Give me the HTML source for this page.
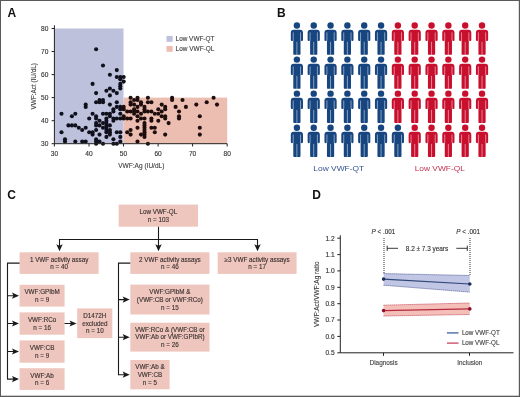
<!DOCTYPE html>
<html><head><meta charset="utf-8"><title>Figure</title><style>
html,body{margin:0;padding:0;background:#fff;overflow:hidden}
svg{display:block;will-change:transform}
text{font-family:"Liberation Sans",sans-serif}
</style></head><body>
<svg width="520" height="397" viewBox="0 0 520 397">
<rect x="0" y="0" width="520" height="397" fill="#fff"/>

<text x="7.5" y="16.5" font-size="12" font-weight="bold" fill="#111">A</text>
<rect x="54.4" y="28.5" width="69.1" height="115.2" fill="#bec1db"/>
<rect x="123.5" y="97.6" width="103.7" height="46.1" fill="#ecbdb1"/>
<g><circle cx="61.5" cy="132.3" r="2.05" fill="#10101c"/><circle cx="61.5" cy="113.8" r="2.05" fill="#10101c"/><circle cx="65.0" cy="141.5" r="2.05" fill="#10101c"/><circle cx="65.0" cy="139.2" r="2.05" fill="#10101c"/><circle cx="68.4" cy="125.4" r="2.05" fill="#10101c"/><circle cx="71.9" cy="125.4" r="2.05" fill="#10101c"/><circle cx="71.9" cy="116.2" r="2.05" fill="#10101c"/><circle cx="75.3" cy="141.5" r="2.05" fill="#10101c"/><circle cx="75.3" cy="125.4" r="2.05" fill="#10101c"/><circle cx="75.3" cy="113.8" r="2.05" fill="#10101c"/><circle cx="78.8" cy="127.7" r="2.05" fill="#10101c"/><circle cx="82.2" cy="141.5" r="2.05" fill="#10101c"/><circle cx="82.2" cy="130.0" r="2.05" fill="#10101c"/><circle cx="85.7" cy="141.5" r="2.05" fill="#10101c"/><circle cx="85.7" cy="127.7" r="2.05" fill="#10101c"/><circle cx="85.7" cy="106.9" r="2.05" fill="#10101c"/><circle cx="85.7" cy="104.6" r="2.05" fill="#10101c"/><circle cx="89.2" cy="132.3" r="2.05" fill="#10101c"/><circle cx="89.2" cy="118.5" r="2.05" fill="#10101c"/><circle cx="92.6" cy="134.6" r="2.05" fill="#10101c"/><circle cx="92.6" cy="132.3" r="2.05" fill="#10101c"/><circle cx="92.6" cy="113.8" r="2.05" fill="#10101c"/><circle cx="92.6" cy="83.9" r="2.05" fill="#10101c"/><circle cx="96.1" cy="143.8" r="2.05" fill="#10101c"/><circle cx="96.1" cy="141.5" r="2.05" fill="#10101c"/><circle cx="96.1" cy="139.2" r="2.05" fill="#10101c"/><circle cx="96.1" cy="130.0" r="2.05" fill="#10101c"/><circle cx="96.1" cy="125.4" r="2.05" fill="#10101c"/><circle cx="96.1" cy="123.1" r="2.05" fill="#10101c"/><circle cx="96.1" cy="118.5" r="2.05" fill="#10101c"/><circle cx="96.1" cy="116.2" r="2.05" fill="#10101c"/><circle cx="96.1" cy="102.3" r="2.05" fill="#10101c"/><circle cx="96.1" cy="93.1" r="2.05" fill="#10101c"/><circle cx="96.1" cy="49.3" r="2.05" fill="#10101c"/><circle cx="99.5" cy="141.5" r="2.05" fill="#10101c"/><circle cx="99.5" cy="134.6" r="2.05" fill="#10101c"/><circle cx="99.5" cy="125.4" r="2.05" fill="#10101c"/><circle cx="99.5" cy="120.8" r="2.05" fill="#10101c"/><circle cx="99.5" cy="102.3" r="2.05" fill="#10101c"/><circle cx="99.5" cy="100.0" r="2.05" fill="#10101c"/><circle cx="103.0" cy="143.8" r="2.05" fill="#10101c"/><circle cx="103.0" cy="127.7" r="2.05" fill="#10101c"/><circle cx="103.0" cy="123.1" r="2.05" fill="#10101c"/><circle cx="103.0" cy="113.8" r="2.05" fill="#10101c"/><circle cx="103.0" cy="102.3" r="2.05" fill="#10101c"/><circle cx="103.0" cy="100.0" r="2.05" fill="#10101c"/><circle cx="103.0" cy="65.5" r="2.05" fill="#10101c"/><circle cx="106.4" cy="136.9" r="2.05" fill="#10101c"/><circle cx="106.4" cy="132.3" r="2.05" fill="#10101c"/><circle cx="106.4" cy="130.0" r="2.05" fill="#10101c"/><circle cx="106.4" cy="127.7" r="2.05" fill="#10101c"/><circle cx="106.4" cy="125.4" r="2.05" fill="#10101c"/><circle cx="106.4" cy="123.1" r="2.05" fill="#10101c"/><circle cx="106.4" cy="120.8" r="2.05" fill="#10101c"/><circle cx="106.4" cy="118.5" r="2.05" fill="#10101c"/><circle cx="106.4" cy="113.8" r="2.05" fill="#10101c"/><circle cx="106.4" cy="90.8" r="2.05" fill="#10101c"/><circle cx="109.9" cy="134.6" r="2.05" fill="#10101c"/><circle cx="109.9" cy="132.3" r="2.05" fill="#10101c"/><circle cx="109.9" cy="130.0" r="2.05" fill="#10101c"/><circle cx="109.9" cy="125.4" r="2.05" fill="#10101c"/><circle cx="109.9" cy="116.2" r="2.05" fill="#10101c"/><circle cx="109.9" cy="113.8" r="2.05" fill="#10101c"/><circle cx="109.9" cy="104.6" r="2.05" fill="#10101c"/><circle cx="109.9" cy="95.4" r="2.05" fill="#10101c"/><circle cx="109.9" cy="88.5" r="2.05" fill="#10101c"/><circle cx="109.9" cy="74.7" r="2.05" fill="#10101c"/><circle cx="113.4" cy="143.8" r="2.05" fill="#10101c"/><circle cx="113.4" cy="139.2" r="2.05" fill="#10101c"/><circle cx="113.4" cy="120.8" r="2.05" fill="#10101c"/><circle cx="113.4" cy="118.5" r="2.05" fill="#10101c"/><circle cx="113.4" cy="111.5" r="2.05" fill="#10101c"/><circle cx="113.4" cy="109.2" r="2.05" fill="#10101c"/><circle cx="113.4" cy="90.8" r="2.05" fill="#10101c"/><circle cx="116.8" cy="143.8" r="2.05" fill="#10101c"/><circle cx="116.8" cy="132.3" r="2.05" fill="#10101c"/><circle cx="116.8" cy="118.5" r="2.05" fill="#10101c"/><circle cx="116.8" cy="106.9" r="2.05" fill="#10101c"/><circle cx="116.8" cy="102.3" r="2.05" fill="#10101c"/><circle cx="116.8" cy="93.1" r="2.05" fill="#10101c"/><circle cx="116.8" cy="77.0" r="2.05" fill="#10101c"/><circle cx="116.8" cy="70.1" r="2.05" fill="#10101c"/><circle cx="120.3" cy="141.5" r="2.05" fill="#10101c"/><circle cx="120.3" cy="136.9" r="2.05" fill="#10101c"/><circle cx="120.3" cy="132.3" r="2.05" fill="#10101c"/><circle cx="120.3" cy="118.5" r="2.05" fill="#10101c"/><circle cx="120.3" cy="113.8" r="2.05" fill="#10101c"/><circle cx="120.3" cy="109.2" r="2.05" fill="#10101c"/><circle cx="120.3" cy="106.9" r="2.05" fill="#10101c"/><circle cx="120.3" cy="88.5" r="2.05" fill="#10101c"/><circle cx="120.3" cy="86.2" r="2.05" fill="#10101c"/><circle cx="120.3" cy="83.9" r="2.05" fill="#10101c"/><circle cx="120.3" cy="79.3" r="2.05" fill="#10101c"/><circle cx="120.3" cy="77.0" r="2.05" fill="#10101c"/><circle cx="123.7" cy="118.5" r="2.05" fill="#1e0d0d"/><circle cx="123.7" cy="116.2" r="2.05" fill="#1e0d0d"/><circle cx="123.7" cy="109.2" r="2.05" fill="#1e0d0d"/><circle cx="123.7" cy="106.9" r="2.05" fill="#1e0d0d"/><circle cx="123.7" cy="81.6" r="2.05" fill="#10101c"/><circle cx="123.7" cy="77.0" r="2.05" fill="#10101c"/><circle cx="127.2" cy="132.3" r="2.05" fill="#1e0d0d"/><circle cx="127.2" cy="118.5" r="2.05" fill="#1e0d0d"/><circle cx="127.2" cy="111.5" r="2.05" fill="#1e0d0d"/><circle cx="130.6" cy="134.6" r="2.05" fill="#1e0d0d"/><circle cx="130.6" cy="130.0" r="2.05" fill="#1e0d0d"/><circle cx="130.6" cy="118.5" r="2.05" fill="#1e0d0d"/><circle cx="130.6" cy="111.5" r="2.05" fill="#1e0d0d"/><circle cx="130.6" cy="104.6" r="2.05" fill="#1e0d0d"/><circle cx="130.6" cy="102.3" r="2.05" fill="#1e0d0d"/><circle cx="130.6" cy="97.7" r="2.05" fill="#1e0d0d"/><circle cx="134.1" cy="113.8" r="2.05" fill="#1e0d0d"/><circle cx="134.1" cy="111.5" r="2.05" fill="#1e0d0d"/><circle cx="134.1" cy="109.2" r="2.05" fill="#1e0d0d"/><circle cx="134.1" cy="104.6" r="2.05" fill="#1e0d0d"/><circle cx="134.1" cy="100.0" r="2.05" fill="#1e0d0d"/><circle cx="137.5" cy="141.5" r="2.05" fill="#1e0d0d"/><circle cx="137.5" cy="127.7" r="2.05" fill="#1e0d0d"/><circle cx="137.5" cy="120.8" r="2.05" fill="#1e0d0d"/><circle cx="137.5" cy="116.2" r="2.05" fill="#1e0d0d"/><circle cx="137.5" cy="111.5" r="2.05" fill="#1e0d0d"/><circle cx="137.5" cy="106.9" r="2.05" fill="#1e0d0d"/><circle cx="137.5" cy="100.0" r="2.05" fill="#1e0d0d"/><circle cx="137.5" cy="97.7" r="2.05" fill="#1e0d0d"/><circle cx="141.0" cy="134.6" r="2.05" fill="#1e0d0d"/><circle cx="141.0" cy="118.5" r="2.05" fill="#1e0d0d"/><circle cx="141.0" cy="113.8" r="2.05" fill="#1e0d0d"/><circle cx="141.0" cy="104.6" r="2.05" fill="#1e0d0d"/><circle cx="141.0" cy="102.3" r="2.05" fill="#1e0d0d"/><circle cx="144.5" cy="136.9" r="2.05" fill="#1e0d0d"/><circle cx="144.5" cy="134.6" r="2.05" fill="#1e0d0d"/><circle cx="144.5" cy="132.3" r="2.05" fill="#1e0d0d"/><circle cx="144.5" cy="130.0" r="2.05" fill="#1e0d0d"/><circle cx="144.5" cy="127.7" r="2.05" fill="#1e0d0d"/><circle cx="144.5" cy="125.4" r="2.05" fill="#1e0d0d"/><circle cx="144.5" cy="123.1" r="2.05" fill="#1e0d0d"/><circle cx="144.5" cy="118.5" r="2.05" fill="#1e0d0d"/><circle cx="144.5" cy="111.5" r="2.05" fill="#1e0d0d"/><circle cx="144.5" cy="109.2" r="2.05" fill="#1e0d0d"/><circle cx="144.5" cy="106.9" r="2.05" fill="#1e0d0d"/><circle cx="147.9" cy="143.8" r="2.05" fill="#1e0d0d"/><circle cx="147.9" cy="111.5" r="2.05" fill="#1e0d0d"/><circle cx="147.9" cy="102.3" r="2.05" fill="#1e0d0d"/><circle cx="147.9" cy="97.7" r="2.05" fill="#1e0d0d"/><circle cx="151.4" cy="127.7" r="2.05" fill="#1e0d0d"/><circle cx="151.4" cy="120.8" r="2.05" fill="#1e0d0d"/><circle cx="151.4" cy="118.5" r="2.05" fill="#1e0d0d"/><circle cx="151.4" cy="111.5" r="2.05" fill="#1e0d0d"/><circle cx="151.4" cy="102.3" r="2.05" fill="#1e0d0d"/><circle cx="154.8" cy="132.3" r="2.05" fill="#1e0d0d"/><circle cx="154.8" cy="127.7" r="2.05" fill="#1e0d0d"/><circle cx="154.8" cy="113.8" r="2.05" fill="#1e0d0d"/><circle cx="158.3" cy="120.8" r="2.05" fill="#1e0d0d"/><circle cx="158.3" cy="113.8" r="2.05" fill="#1e0d0d"/><circle cx="158.3" cy="109.2" r="2.05" fill="#1e0d0d"/><circle cx="161.7" cy="116.2" r="2.05" fill="#1e0d0d"/><circle cx="161.7" cy="111.5" r="2.05" fill="#1e0d0d"/><circle cx="161.7" cy="104.6" r="2.05" fill="#1e0d0d"/><circle cx="165.2" cy="134.6" r="2.05" fill="#1e0d0d"/><circle cx="165.2" cy="118.5" r="2.05" fill="#1e0d0d"/><circle cx="165.2" cy="116.2" r="2.05" fill="#1e0d0d"/><circle cx="165.2" cy="109.2" r="2.05" fill="#1e0d0d"/><circle cx="165.2" cy="106.9" r="2.05" fill="#1e0d0d"/><circle cx="168.6" cy="123.1" r="2.05" fill="#1e0d0d"/><circle cx="172.1" cy="100.0" r="2.05" fill="#1e0d0d"/><circle cx="172.1" cy="97.7" r="2.05" fill="#1e0d0d"/><circle cx="175.6" cy="106.9" r="2.05" fill="#1e0d0d"/><circle cx="179.0" cy="118.5" r="2.05" fill="#1e0d0d"/><circle cx="179.0" cy="116.2" r="2.05" fill="#1e0d0d"/><circle cx="179.0" cy="111.5" r="2.05" fill="#1e0d0d"/><circle cx="182.5" cy="100.0" r="2.05" fill="#1e0d0d"/><circle cx="185.9" cy="106.9" r="2.05" fill="#1e0d0d"/><circle cx="196.3" cy="104.6" r="2.05" fill="#1e0d0d"/><circle cx="199.8" cy="134.6" r="2.05" fill="#1e0d0d"/><circle cx="199.8" cy="127.7" r="2.05" fill="#1e0d0d"/><circle cx="199.8" cy="116.2" r="2.05" fill="#1e0d0d"/><circle cx="206.7" cy="102.3" r="2.05" fill="#1e0d0d"/><circle cx="213.6" cy="97.7" r="2.05" fill="#1e0d0d"/><circle cx="217.0" cy="104.6" r="2.05" fill="#1e0d0d"/></g>
<path d="M54.4 25.3V143.7H227.2" fill="none" stroke="#222" stroke-width="1"/>
<path d="M51.6 143.7H54.4M54.4 143.7V146.5M51.6 120.7H54.4M89.0 143.7V146.5M51.6 97.6H54.4M123.5 143.7V146.5M51.6 74.6H54.4M158.1 143.7V146.5M51.6 51.5H54.4M192.6 143.7V146.5M51.6 28.5H54.4M227.2 143.7V146.5" stroke="#222" stroke-width="1"/>
<text x="48.4" y="145.9" font-size="6.6" text-anchor="end" fill="#333" stroke="#333" stroke-width="0.13">30</text>
<text x="54.4" y="156.2" font-size="6.6" text-anchor="middle" fill="#333" stroke="#333" stroke-width="0.13">30</text>
<text x="48.4" y="122.9" font-size="6.6" text-anchor="end" fill="#333" stroke="#333" stroke-width="0.13">40</text>
<text x="89.0" y="156.2" font-size="6.6" text-anchor="middle" fill="#333" stroke="#333" stroke-width="0.13">40</text>
<text x="48.4" y="99.8" font-size="6.6" text-anchor="end" fill="#333" stroke="#333" stroke-width="0.13">50</text>
<text x="123.5" y="156.2" font-size="6.6" text-anchor="middle" fill="#333" stroke="#333" stroke-width="0.13">50</text>
<text x="48.4" y="76.8" font-size="6.6" text-anchor="end" fill="#333" stroke="#333" stroke-width="0.13">60</text>
<text x="158.1" y="156.2" font-size="6.6" text-anchor="middle" fill="#333" stroke="#333" stroke-width="0.13">60</text>
<text x="48.4" y="53.7" font-size="6.6" text-anchor="end" fill="#333" stroke="#333" stroke-width="0.13">70</text>
<text x="192.6" y="156.2" font-size="6.6" text-anchor="middle" fill="#333" stroke="#333" stroke-width="0.13">70</text>
<text x="48.4" y="30.7" font-size="6.6" text-anchor="end" fill="#333" stroke="#333" stroke-width="0.13">80</text>
<text x="227.2" y="156.2" font-size="6.6" text-anchor="middle" fill="#333" stroke="#333" stroke-width="0.13">80</text>
<text x="141.3" y="168.3" font-size="6.6" text-anchor="middle" fill="#444" textLength="46.2" lengthAdjust="spacingAndGlyphs" stroke="#444" stroke-width="0.13">VWF:Ag (IU/dL)</text>
<text transform="translate(36 86.3) rotate(-90)" x="0" y="0" font-size="6.6" text-anchor="middle" fill="#444" textLength="46.5" lengthAdjust="spacingAndGlyphs" stroke="#444" stroke-width="0.13">VWF:Act (IU/dL)</text>
<rect x="166.5" y="36" width="6.2" height="5.8" fill="#bec1db"/>
<rect x="166.5" y="46" width="6.2" height="5.8" fill="#ecbdb1"/>
<text x="175.6" y="41.2" font-size="6.5" fill="#444" textLength="38.8" lengthAdjust="spacingAndGlyphs" stroke="#444" stroke-width="0.13">Low VWF-QT</text>
<text x="175.6" y="51.2" font-size="6.5" fill="#444" textLength="38.8" lengthAdjust="spacingAndGlyphs" stroke="#444" stroke-width="0.13">Low VWF-QL</text>
<text x="277.0" y="16.5" font-size="12" font-weight="bold" fill="#111">B</text>
<defs><g id="man">
<circle cx="0" cy="-0.05" r="3.2"/>
<path d="M-6.1 7A2.9 2.9 0 0 1 -3.2 4.1H3.2A2.9 2.9 0 0 1 6.1 7V14.3A1.1 1.1 0 0 1 5 15.4H4.8A1.1 1.1 0 0 1 3.7 14.3V15H3.6V28.3A0.9 0.9 0 0 1 2.7 29.2H-2.7A0.9 0.9 0 0 1 -3.6 28.3V15H-3.7V14.3A1.1 1.1 0 0 1 -4.8 15.4H-5A1.1 1.1 0 0 1 -6.1 14.3Z"/>
<path d="M-3.65 6.8V15M3.65 6.8V15M0 16.2V29.2" stroke="#fff" stroke-opacity="0.75" stroke-width="0.65" fill="none"/>
</g></defs>
<use href="#man" x="296.90" y="25.60" fill="#174580"/>
<use href="#man" x="313.73" y="25.60" fill="#174580"/>
<use href="#man" x="330.56" y="25.60" fill="#174580"/>
<use href="#man" x="347.39" y="25.60" fill="#174580"/>
<use href="#man" x="364.22" y="25.60" fill="#174580"/>
<use href="#man" x="381.05" y="25.60" fill="#174580"/>
<use href="#man" x="397.88" y="25.60" fill="#c8102e"/>
<use href="#man" x="414.71" y="25.60" fill="#c8102e"/>
<use href="#man" x="431.54" y="25.60" fill="#c8102e"/>
<use href="#man" x="448.37" y="25.60" fill="#c8102e"/>
<use href="#man" x="465.20" y="25.60" fill="#c8102e"/>
<use href="#man" x="482.03" y="25.60" fill="#c8102e"/>
<use href="#man" x="296.90" y="59.65" fill="#174580"/>
<use href="#man" x="313.73" y="59.65" fill="#174580"/>
<use href="#man" x="330.56" y="59.65" fill="#174580"/>
<use href="#man" x="347.39" y="59.65" fill="#174580"/>
<use href="#man" x="364.22" y="59.65" fill="#174580"/>
<use href="#man" x="381.05" y="59.65" fill="#174580"/>
<use href="#man" x="397.88" y="59.65" fill="#c8102e"/>
<use href="#man" x="414.71" y="59.65" fill="#c8102e"/>
<use href="#man" x="431.54" y="59.65" fill="#c8102e"/>
<use href="#man" x="448.37" y="59.65" fill="#c8102e"/>
<use href="#man" x="465.20" y="59.65" fill="#c8102e"/>
<use href="#man" x="482.03" y="59.65" fill="#c8102e"/>
<use href="#man" x="296.90" y="93.70" fill="#174580"/>
<use href="#man" x="313.73" y="93.70" fill="#174580"/>
<use href="#man" x="330.56" y="93.70" fill="#174580"/>
<use href="#man" x="347.39" y="93.70" fill="#174580"/>
<use href="#man" x="364.22" y="93.70" fill="#174580"/>
<use href="#man" x="381.05" y="93.70" fill="#174580"/>
<use href="#man" x="397.88" y="93.70" fill="#c8102e"/>
<use href="#man" x="414.71" y="93.70" fill="#c8102e"/>
<use href="#man" x="431.54" y="93.70" fill="#c8102e"/>
<use href="#man" x="448.37" y="93.70" fill="#c8102e"/>
<use href="#man" x="465.20" y="93.70" fill="#c8102e"/>
<use href="#man" x="482.03" y="93.70" fill="#c8102e"/>
<use href="#man" x="296.90" y="127.75" fill="#174580"/>
<use href="#man" x="313.73" y="127.75" fill="#174580"/>
<use href="#man" x="330.56" y="127.75" fill="#174580"/>
<use href="#man" x="347.39" y="127.75" fill="#174580"/>
<use href="#man" x="364.22" y="127.75" fill="#174580"/>
<use href="#man" x="381.05" y="127.75" fill="#174580"/>
<use href="#man" x="397.88" y="127.75" fill="#174580"/>
<use href="#man" x="414.71" y="127.75" fill="#c8102e"/>
<use href="#man" x="431.54" y="127.75" fill="#c8102e"/>
<use href="#man" x="448.37" y="127.75" fill="#c8102e"/>
<use href="#man" x="465.20" y="127.75" fill="#c8102e"/>
<use href="#man" x="482.03" y="127.75" fill="#c8102e"/>
<text class="ns" x="313.3" y="171" font-size="7.7" fill="#34548c" textLength="50.9" lengthAdjust="spacingAndGlyphs">Low VWF-QT</text>
<text class="ns" x="414.7" y="171" font-size="7.7" fill="#c4324f" textLength="50.2" lengthAdjust="spacingAndGlyphs">Low VWF-QL</text>
<text x="7.3" y="198.5" font-size="12" font-weight="bold" fill="#111">C</text>
<rect x="118.7" y="204.6" width="79.3" height="22.1" fill="#eec6bd"/><text x="158.3" y="214.1" font-size="6.3" text-anchor="middle" fill="#3b3131" stroke="#3b3131" stroke-width="0.13">Low VWF-QL</text><text x="158.3" y="221.8" font-size="6.3" text-anchor="middle" fill="#3b3131" stroke="#3b3131" stroke-width="0.13">n = 103</text>
<rect x="19.6" y="252.3" width="79.0" height="21.6" fill="#eec6bd"/><text x="59.1" y="261.6" font-size="6.3" text-anchor="middle" fill="#3b3131" stroke="#3b3131" stroke-width="0.13">1 VWF activity assay</text><text x="59.1" y="269.2" font-size="6.3" text-anchor="middle" fill="#3b3131" stroke="#3b3131" stroke-width="0.13">n = 40</text>
<rect x="130.3" y="252.3" width="79.2" height="21.6" fill="#eec6bd"/><text x="169.9" y="261.6" font-size="6.3" text-anchor="middle" fill="#3b3131" stroke="#3b3131" stroke-width="0.13">2 VWF activity assays</text><text x="169.9" y="269.2" font-size="6.3" text-anchor="middle" fill="#3b3131" stroke="#3b3131" stroke-width="0.13">n = 46</text>
<rect x="217.7" y="252.3" width="78.9" height="21.6" fill="#eec6bd"/><text x="257.1" y="261.6" font-size="6.3" text-anchor="middle" fill="#3b3131" stroke="#3b3131" stroke-width="0.13">≥3 VWF activity assays</text><text x="257.1" y="269.2" font-size="6.3" text-anchor="middle" fill="#3b3131" stroke="#3b3131" stroke-width="0.13">n = 17</text>
<rect x="19.6" y="284.8" width="45.0" height="21.8" fill="#eec6bd"/><text x="42.1" y="294.2" font-size="6.3" text-anchor="middle" fill="#3b3131" stroke="#3b3131" stroke-width="0.13">VWF:GPIbM</text><text x="42.1" y="301.9" font-size="6.3" text-anchor="middle" fill="#3b3131" stroke="#3b3131" stroke-width="0.13">n = 9</text>
<rect x="19.6" y="312.4" width="45.0" height="22.3" fill="#eec6bd"/><text x="42.1" y="322.0" font-size="6.3" text-anchor="middle" fill="#3b3131" stroke="#3b3131" stroke-width="0.13">VWF:RCo</text><text x="42.1" y="329.7" font-size="6.3" text-anchor="middle" fill="#3b3131" stroke="#3b3131" stroke-width="0.13">n = 16</text>
<rect x="77.2" y="308.4" width="35.1" height="29.7" fill="#eec6bd"/><text x="94.8" y="317.9" font-size="6.3" text-anchor="middle" fill="#3b3131" stroke="#3b3131" stroke-width="0.13">D1472H</text><text x="94.8" y="325.6" font-size="6.3" text-anchor="middle" fill="#3b3131" stroke="#3b3131" stroke-width="0.13">excluded</text><text x="94.8" y="333.2" font-size="6.3" text-anchor="middle" fill="#3b3131" stroke="#3b3131" stroke-width="0.13">n = 10</text>
<rect x="19.6" y="340.4" width="45.0" height="22.3" fill="#eec6bd"/><text x="42.1" y="350.0" font-size="6.3" text-anchor="middle" fill="#3b3131" stroke="#3b3131" stroke-width="0.13">VWF:CB</text><text x="42.1" y="357.7" font-size="6.3" text-anchor="middle" fill="#3b3131" stroke="#3b3131" stroke-width="0.13">n = 9</text>
<rect x="19.6" y="368.2" width="45.0" height="21.7" fill="#eec6bd"/><text x="42.1" y="377.5" font-size="6.3" text-anchor="middle" fill="#3b3131" stroke="#3b3131" stroke-width="0.13">VWF:Ab</text><text x="42.1" y="385.2" font-size="6.3" text-anchor="middle" fill="#3b3131" stroke="#3b3131" stroke-width="0.13">n = 6</text>
<rect x="130.3" y="284.6" width="79.2" height="29.9" fill="#eec6bd"/><text x="169.9" y="294.2" font-size="6.3" text-anchor="middle" fill="#3b3131" stroke="#3b3131" stroke-width="0.13">VWF:GPIbM &amp;</text><text x="169.9" y="301.9" font-size="6.3" text-anchor="middle" fill="#3b3131" stroke="#3b3131" stroke-width="0.13">(VWF:CB or VWF:RCo)</text><text x="169.9" y="309.6" font-size="6.3" text-anchor="middle" fill="#3b3131" stroke="#3b3131" stroke-width="0.13">n = 15</text>
<rect x="130.3" y="322.7" width="79.2" height="28.9" fill="#eec6bd"/><text x="169.9" y="331.8" font-size="6.3" text-anchor="middle" fill="#3b3131" stroke="#3b3131" stroke-width="0.13">VWF:RCo &amp; (VWF:CB or</text><text x="169.9" y="339.4" font-size="6.3" text-anchor="middle" fill="#3b3131" stroke="#3b3131" stroke-width="0.13">VWF:Ab or VWF:GPIbR)</text><text x="169.9" y="347.1" font-size="6.3" text-anchor="middle" fill="#3b3131" stroke="#3b3131" stroke-width="0.13">n = 26</text>
<rect x="130.3" y="360" width="39.3" height="29.3" fill="#eec6bd"/><text x="149.9" y="369.2" font-size="6.3" text-anchor="middle" fill="#3b3131" stroke="#3b3131" stroke-width="0.13">VWF:Ab &amp;</text><text x="149.9" y="376.9" font-size="6.3" text-anchor="middle" fill="#3b3131" stroke="#3b3131" stroke-width="0.13">VWF:CB</text><text x="149.9" y="384.6" font-size="6.3" text-anchor="middle" fill="#3b3131" stroke="#3b3131" stroke-width="0.13">n = 5</text>
<path d="M158.5 226.7V248M59.5 248V239.5H257.5V248M19.6 263.1H7.5V379.1H15.5M7.5 295.7H15.5M7.5 323.5H15.5M7.5 351.5H15.5M64.6 323.5H73M130.3 263.1H118.5V374.7H126M118.5 299.6H126M118.5 337.2H126" fill="none" stroke="#1a1a1a" stroke-width="1.1"/>
<path d="M59.5 251.3L56.3 244.3L59.5 245.70000000000002L62.7 244.3ZM158.5 251.3L155.3 244.3L158.5 245.70000000000002L161.7 244.3ZM257.5 251.3L254.3 244.3L257.5 245.70000000000002L260.7 244.3ZM19.0 295.7L12.0 292.59999999999997L13.4 295.7L12.0 298.8ZM19.0 323.5L12.0 320.4L13.4 323.5L12.0 326.6ZM19.0 351.5L12.0 348.4L13.4 351.5L12.0 354.6ZM19.0 379.1L12.0 376.0L13.4 379.1L12.0 382.20000000000005ZM76.60000000000001 323.5L69.60000000000001 320.4L71.00000000000001 323.5L69.60000000000001 326.6ZM129.70000000000002 299.6L122.70000000000002 296.5L124.10000000000002 299.6L122.70000000000002 302.70000000000005ZM129.70000000000002 337.2L122.70000000000002 334.09999999999997L124.10000000000002 337.2L122.70000000000002 340.3ZM129.70000000000002 374.7L122.70000000000002 371.59999999999997L124.10000000000002 374.7L122.70000000000002 377.8Z" fill="#1a1a1a"/>
<text x="312.3" y="198.5" font-size="12" font-weight="bold" fill="#111">D</text>
<path d="M383.6 273.6L469.8 275.5L469.8 292.1L383.6 285.2Z" fill="#c0c6e3"/>
<path d="M383.6 273.6L469.8 275.5M383.6 285.2L469.8 292.1" stroke="#4a5a9a" stroke-width="1" stroke-dasharray="1 1" fill="none"/>
<path d="M383.6 305.2L469.8 303.0L469.8 314.5L383.6 316.0Z" fill="#f5bfb9"/>
<path d="M383.6 305.2L469.8 303.0M383.6 316.0L469.8 314.5" stroke="#c04050" stroke-width="1" stroke-dasharray="1 1" fill="none"/>
<path d="M383.6 279.1L469.8 284.0" stroke="#2f4577" stroke-width="1.1"/>
<path d="M383.6 310.6L469.8 308.9" stroke="#b52a3c" stroke-width="1.1"/>
<circle cx="383.6" cy="279.1" r="1.8" fill="#1c2f5c"/><circle cx="469.8" cy="284.0" r="1.8" fill="#1c2f5c"/>
<circle cx="383.6" cy="310.6" r="1.8" fill="#8c0f2a"/><circle cx="469.8" cy="308.9" r="1.8" fill="#8c0f2a"/>
<path d="M384 238V273.6M470 238V275.5" stroke="#555" stroke-width="1.2" stroke-dasharray="1.1 0.9" fill="none"/>
<path d="M387.2 245.6V251M387.2 248.3H398M456.3 248.3H467.3M467.3 245.6V251" stroke="#222" stroke-width="0.9" fill="none"/>
<text x="427" y="251.3" font-size="6.6" text-anchor="middle" fill="#333" textLength="42.4" lengthAdjust="spacingAndGlyphs" stroke="#333" stroke-width="0.13">8.2 ± 7.3 years</text>
<text x="371.5" y="234.3" font-size="6.3" fill="#333" textLength="23.7" lengthAdjust="spacingAndGlyphs" stroke="#333" stroke-width="0.13"><tspan font-style="italic">P</tspan> &lt; .001</text>
<text x="456.3" y="234.3" font-size="6.3" fill="#333" textLength="23.7" lengthAdjust="spacingAndGlyphs" stroke="#333" stroke-width="0.13"><tspan font-style="italic">P</tspan> &lt; .001</text>
<path d="M340.3 235.3V352.8H513.5" fill="none" stroke="#222" stroke-width="1"/>
<path d="M337.3 352.8H340.3M337.3 336.4H340.3M337.3 320.0H340.3M337.3 303.7H340.3M337.3 287.3H340.3M337.3 270.9H340.3M337.3 254.6H340.3M337.3 238.2H340.3M383.5 352.8V355.8M469.5 352.8V355.8" stroke="#222" stroke-width="1"/>
<text x="334.6" y="355.1" font-size="6.6" text-anchor="end" fill="#333" stroke="#333" stroke-width="0.13">0.5</text>
<text x="334.6" y="338.7" font-size="6.6" text-anchor="end" fill="#333" stroke="#333" stroke-width="0.13">0.6</text>
<text x="334.6" y="322.3" font-size="6.6" text-anchor="end" fill="#333" stroke="#333" stroke-width="0.13">0.7</text>
<text x="334.6" y="306.0" font-size="6.6" text-anchor="end" fill="#333" stroke="#333" stroke-width="0.13">0.8</text>
<text x="334.6" y="289.6" font-size="6.6" text-anchor="end" fill="#333" stroke="#333" stroke-width="0.13">0.9</text>
<text x="334.6" y="273.2" font-size="6.6" text-anchor="end" fill="#333" stroke="#333" stroke-width="0.13">1.0</text>
<text x="334.6" y="256.9" font-size="6.6" text-anchor="end" fill="#333" stroke="#333" stroke-width="0.13">1.1</text>
<text x="334.6" y="240.5" font-size="6.6" text-anchor="end" fill="#333" stroke="#333" stroke-width="0.13">1.2</text>
<text x="383.6" y="364.8" font-size="6.4" text-anchor="middle" fill="#444" textLength="28.2" lengthAdjust="spacingAndGlyphs" stroke="#444" stroke-width="0.13">Diagnosis</text>
<text x="469.8" y="364.8" font-size="6.4" text-anchor="middle" fill="#444" textLength="25" lengthAdjust="spacingAndGlyphs" stroke="#444" stroke-width="0.13">Inclusion</text>
<text transform="translate(318.6 294.2) rotate(-90)" font-size="6.4" text-anchor="middle" fill="#444" textLength="65.5" lengthAdjust="spacingAndGlyphs" stroke="#444" stroke-width="0.13">VWF:Act/VWF:Ag ratio</text>
<path d="M446.9 332.9H458.5" stroke="#4a6fa5" stroke-width="1.4"/><path d="M446.9 343.1H458.5" stroke="#d0506a" stroke-width="1.4"/>
<text x="461.9" y="335.2" font-size="6.4" fill="#444" textLength="37.9" lengthAdjust="spacingAndGlyphs" stroke="#444" stroke-width="0.13">Low VWF-QT</text>
<text x="461.9" y="345.4" font-size="6.4" fill="#444" textLength="37.5" lengthAdjust="spacingAndGlyphs" stroke="#444" stroke-width="0.13">Low VWF-QL</text>
<g fill="#5a5a5a"><rect x="0" y="0" width="520" height="1"/><rect x="0" y="0" width="1" height="397"/><rect x="518.8" y="0" width="1.2" height="397"/><rect x="0" y="395.7" width="520" height="1.3"/></g>
</svg></body></html>
